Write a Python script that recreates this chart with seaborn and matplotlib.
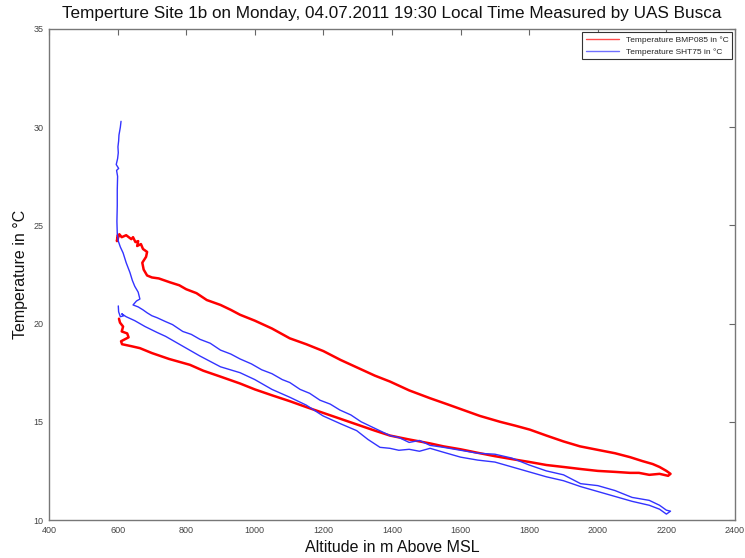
import matplotlib
matplotlib.use("Agg")
import matplotlib.pyplot as plt
import pandas as pd
import seaborn as sns

sns.set_theme(style="white")
plt.rcParams['font.family'] = ['Liberation Sans', 'DejaVu Sans']

title = "Temperture Site 1b on Monday, 04.07.2011 19:30 Local Time Measured by UAS Busca"
x_label = "Altitude in m Above MSL"
y_label = "Temperature in °C"
series_names = ["Temperature BMP085 in °C", "Temperature SHT75 in °C"]
x_ticks = [400, 600, 800, 1000, 1200, 1400, 1600, 1800, 2000, 2200, 2400]
y_ticks = [10, 15, 20, 25, 30, 35]

# BMP085 (red): upper branch outward, lower branch back
bmp_alt = [600, 598, 605, 612, 625, 640, 645, 652, 660, 657, 668, 674, 686, 683, 672, 676, 686,
           700, 720, 753, 780, 800, 830, 860, 900, 930, 957, 1000, 1050, 1102, 1150, 1200, 1250,
           1300, 1350, 1394, 1450, 1511, 1560, 1600, 1656, 1715, 1760, 1802, 1850, 1900, 1948,
           2006, 2050, 2094, 2130, 2160, 2180, 2200, 2212,
           2205, 2180, 2150, 2120, 2094, 2050, 2000, 1948, 1900, 1850, 1802, 1750, 1700, 1656,
           1600, 1550, 1511, 1450, 1394, 1350, 1300, 1250, 1200, 1150, 1102, 1050, 1000, 957,
           900, 850, 811, 750, 700, 665, 640, 613, 610, 632, 628, 612, 616, 607, 604]
bmp_temp = [24.5, 24.2, 24.55, 24.4, 24.5, 24.3, 24.4, 24.15, 24.2, 23.95, 24.05, 23.8, 23.65,
            23.4, 23.1, 22.75, 22.45,
            22.35, 22.3, 22.1, 21.95, 21.75, 21.55, 21.2, 20.95, 20.7, 20.45, 20.15, 19.75, 19.25,
            18.95, 18.6, 18.15, 17.75, 17.35, 17.05, 16.6, 16.2, 15.9, 15.65, 15.3, 15.0, 14.8,
            14.6, 14.3, 14.0, 13.75, 13.55, 13.4, 13.2, 13.0, 12.85, 12.7, 12.5, 12.35,
            12.25, 12.35, 12.3, 12.4, 12.4, 12.45, 12.5, 12.6, 12.7, 12.8, 12.95, 13.1, 13.25, 13.4,
            13.6, 13.75, 13.9, 14.1, 14.3, 14.55, 14.85, 15.15, 15.45, 15.75, 16.05, 16.35, 16.65,
            16.95, 17.3, 17.6, 17.9, 18.2, 18.5, 18.75, 18.85, 18.95, 19.1, 19.3, 19.5, 19.6,
            19.85, 20.05, 20.25]

# SHT75 (blue)
sht_alt = [610, 608, 606, 604, 603, 601, 602, 600, 596, 603, 597, 600, 599, 599, 598, 599, 602,
           608, 616, 625, 636, 643, 650, 660, 665, 655, 645, 660, 674, 686, 700, 715, 740, 760,
           790, 815, 840, 870, 900, 930, 957, 990, 1020, 1050, 1080, 1102, 1132, 1160, 1190, 1220,
           1248, 1280, 1310, 1340, 1370, 1394, 1420, 1450, 1480, 1511, 1550, 1600, 1650, 1700,
           1750, 1800, 1850, 1900, 1950, 2000, 2050, 2100, 2150, 2180, 2200, 2212,
           2200, 2180, 2150, 2100, 2050, 2000, 1950, 1900, 1850, 1800, 1750, 1700, 1650, 1600,
           1550, 1511, 1480, 1450, 1420, 1394, 1365, 1330, 1297, 1250, 1199, 1150, 1102, 1050,
           1000, 957, 900, 840, 780, 740, 715, 680, 650, 625, 612, 618, 608, 603, 602]
sht_temp = [30.3, 30.0, 29.8, 29.6, 29.3, 29.0, 28.7, 28.4, 28.1, 27.9, 27.8, 27.5, 26.8, 26.0,
            25.2, 24.6, 24.2, 23.9, 23.6, 23.1, 22.6, 22.2, 21.9, 21.6, 21.25, 21.15, 20.95, 20.85,
            20.7, 20.55, 20.4, 20.3, 20.1, 19.95, 19.6, 19.45, 19.2, 19.0, 18.65, 18.45, 18.2,
            17.95, 17.65, 17.45, 17.15, 17.0, 16.65, 16.45, 16.1, 15.9, 15.6, 15.35, 15.0, 14.75,
            14.5, 14.3, 14.2, 13.95, 14.05, 13.8, 13.7, 13.55, 13.4, 13.35, 13.15, 12.8, 12.5,
            12.3, 11.85, 11.75, 11.5, 11.15, 11.0, 10.75, 10.5, 10.45,
            10.3, 10.55, 10.75, 10.95, 11.2, 11.45, 11.7, 12.0, 12.2, 12.45, 12.7, 12.95, 13.05,
            13.2, 13.45, 13.65, 13.5, 13.6, 13.55, 13.65, 13.7, 14.1, 14.55, 14.9, 15.3, 15.85,
            16.25, 16.65, 17.15, 17.5, 17.8, 18.35, 18.95, 19.35, 19.55, 19.85, 20.15, 20.35,
            20.5, 20.4, 20.35, 20.6, 20.9]

df_bmp = pd.DataFrame({"alt": bmp_alt, "temp": bmp_temp})
df_sht = pd.DataFrame({"alt": sht_alt, "temp": sht_temp})

W, H = 745, 558
fig = plt.figure(figsize=(W / 100, H / 100), dpi=100)
fig.patch.set_facecolor("white")
ax = fig.add_axes([49 / W, 1 - 520 / H, (735 - 49) / W, (520 - 29) / H])

sns.lineplot(data=df_bmp, x="alt", y="temp", sort=False, estimator=None, color="#ff0000",
             linewidth=1.8, label=series_names[0], ax=ax)
sns.lineplot(data=df_sht, x="alt", y="temp", sort=False, estimator=None, color="#3333ff",
             linewidth=1.0, label=series_names[1], ax=ax)

ax.set_xlim(400, 2400)
ax.set_ylim(10, 35)
ax.set_xticks(x_ticks)
ax.set_yticks(y_ticks)
ax.tick_params(direction="in", top=True, right=True, length=4, width=0.8,
               labelsize=6.5, labelcolor="#444444", color="#666666", pad=4)
for s in ax.spines.values():
    s.set_color("#777777")
    s.set_linewidth(1.0)

ax.set_title(title, fontsize=12.3, pad=8, color="#111111")
ax.set_xlabel(x_label, fontsize=11.5, labelpad=4, color="#111111")
ax.set_ylabel(y_label, fontsize=11.5, labelpad=4, color="#111111")

leg = ax.legend(loc="upper right", fontsize=6, frameon=True, fancybox=False,
                edgecolor="#333333", borderaxespad=0.4, handlelength=4.0, framealpha=1)
leg.get_frame().set_linewidth(0.8)
for line in leg.get_lines():
    line.set_linewidth(1.0)
    line.set_alpha(0.7)

fig.savefig("out.png", dpi=100, facecolor="white")
